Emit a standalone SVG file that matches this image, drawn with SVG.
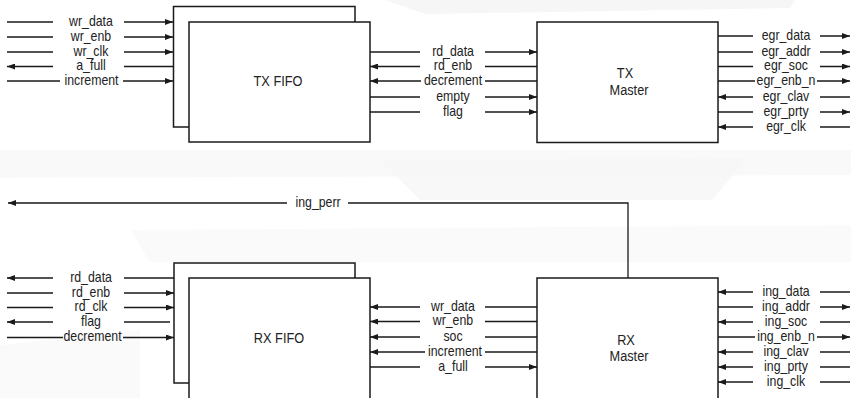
<svg xmlns="http://www.w3.org/2000/svg" width="851" height="398" viewBox="0 0 851 398">
<style>
.box{fill:#ffffff;stroke:#1a1a1a;stroke-width:1.5}
.sig{fill:none;stroke:#1a1a1a;stroke-width:1.3}
.sa{marker-end:url(#ah)}
.lbl,.nl{font-family:"Liberation Sans",Arial,sans-serif;fill:#222222;text-anchor:middle;transform-box:fill-box;transform-origin:center;transform:scaleX(0.88)}
.lbl{font-size:14px}
.nl{font-size:14.5px}
.bg{fill:#f6f6f6}
</style>
<defs>
<marker id="ah" viewBox="0 0 8 6" refX="8" refY="3" markerWidth="8" markerHeight="6" orient="auto" markerUnits="userSpaceOnUse">
<path d="M0,0 L8,3 L0,6 z" fill="#1a1a1a"/>
</marker>
</defs>
<rect width="851" height="398" fill="#ffffff"/>
<g id="background">
<polygon class="bg" points="385,0 795,0 790,8 425,14"/>
<polygon class="bg" points="0,150 851,150 851,175 0,178" opacity="0.7"/>
<polygon class="bg" points="380,160 748,158 712,200 420,200" opacity="0.8"/>
<polygon class="bg" points="130,230 880,225 851,262 150,262" opacity="0.5"/>
<polygon class="bg" points="0,345 140,330 140,398 0,398" opacity="0.6"/>
</g>
<g id="tx_fifo">
<rect class="box" x="173.5" y="6.5" width="181.5" height="120.5"/>
<rect class="box" x="189" y="22" width="181" height="120"/>
<text class="nl" x="278" y="86.5">TX FIFO</text>
</g>
<g id="tx_master">
<rect class="box" x="537" y="22" width="181" height="120.5"/>
<text class="nl" x="625" y="78.5">TX</text>
<text class="nl" x="629" y="95.5">Master</text>
</g>
<g id="rx_fifo">
<rect class="box" x="174" y="263" width="181" height="120"/>
<rect class="box" x="189" y="278" width="181" height="125"/>
<text class="nl" x="279" y="343.5">RX FIFO</text>
</g>
<g id="rx_master">
<rect class="box" x="537" y="278" width="181" height="125"/>
<text class="nl" x="626" y="345.5">RX</text>
<text class="nl" x="629" y="361.5">Master</text>
</g>
<g id="connectors">
<path class="sig sa" d="M7,22 H53 M124,22 H173"/>
<path class="sig sa" d="M7,37 H53 M124,37 H173"/>
<path class="sig sa" d="M7,52 H53 M124,52 H173"/>
<path class="sig sa" d="M124,66.5 H173 M53,66.5 H7"/>
<path class="sig sa" d="M7,81 H60 M123,81 H173"/>
<path class="sig sa" d="M370,52 H420 M485,52 H537"/>
<path class="sig sa" d="M537,66.5 H485 M420,66.5 H370"/>
<path class="sig sa" d="M537,81 H485 M421,81 H370"/>
<path class="sig sa" d="M370,97 H420 M485,97 H537"/>
<path class="sig sa" d="M370,112 H420 M485,112 H537"/>
<path class="sig sa" d="M718,36 H753 M820,36 H850"/>
<path class="sig sa" d="M718,52 H753 M820,52 H850"/>
<path class="sig sa" d="M718,66.5 H753 M820,66.5 H850"/>
<path class="sig sa" d="M718,81 H755 M817,81 H850"/>
<path class="sig sa" d="M850,97 H820 M753,97 H718"/>
<path class="sig sa" d="M718,112 H753 M820,112 H850"/>
<path class="sig sa" d="M850,127 H820 M753,127 H718"/>
<path class="sig sa" d="M628,278 V203 H348 M287,203 H8"/>
<path class="sig sa" d="M124,278 H174 M53,278 H7"/>
<path class="sig sa" d="M7,293 H53 M124,293 H174"/>
<path class="sig sa" d="M7,307.5 H53 M124,307.5 H174"/>
<path class="sig sa" d="M124,322 H170 M53,322 H7"/>
<path class="sig sa" d="M7,337.5 H63 M123,337.5 H174"/>
<path class="sig sa" d="M537,307 H485 M420,307 H370"/>
<path class="sig sa" d="M537,321.5 H485 M420,321.5 H370"/>
<path class="sig sa" d="M537,337 H485 M420,337 H370"/>
<path class="sig sa" d="M537,352 H485 M425,352 H370"/>
<path class="sig sa" d="M370,367 H420 M485,367 H537"/>
<path class="sig sa" d="M850,292 H820 M753,292 H718"/>
<path class="sig sa" d="M718,307 H753 M820,307 H850"/>
<path class="sig sa" d="M850,322 H820 M753,322 H718"/>
<path class="sig sa" d="M718,337 H755 M817,337 H850"/>
<path class="sig sa" d="M850,352 H820 M753,352 H718"/>
<path class="sig sa" d="M850,367 H820 M753,367 H718"/>
<path class="sig sa" d="M850,382 H820 M753,382 H718"/>
</g>
<g id="connector_labels">
<text class="lbl" x="91" y="26">wr_data</text>
<text class="lbl" x="91" y="41">wr_enb</text>
<text class="lbl" x="91" y="56">wr_clk</text>
<text class="lbl" x="91" y="70.5">a_full</text>
<text class="lbl" x="91.5" y="85">increment</text>
<text class="lbl" x="453" y="56">rd_data</text>
<text class="lbl" x="453" y="70.5">rd_enb</text>
<text class="lbl" x="453" y="85">decrement</text>
<text class="lbl" x="453" y="101">empty</text>
<text class="lbl" x="453" y="116">flag</text>
<text class="lbl" x="786" y="40">egr_data</text>
<text class="lbl" x="786" y="56">egr_addr</text>
<text class="lbl" x="786" y="70.5">egr_soc</text>
<text class="lbl" x="786" y="85">egr_enb_n</text>
<text class="lbl" x="786" y="101">egr_clav</text>
<text class="lbl" x="786" y="116">egr_prty</text>
<text class="lbl" x="786" y="131">egr_clk</text>
<text class="lbl" x="318" y="207">ing_perr</text>
<text class="lbl" x="91" y="282">rd_data</text>
<text class="lbl" x="91" y="297">rd_enb</text>
<text class="lbl" x="91" y="311.5">rd_clk</text>
<text class="lbl" x="91" y="326">flag</text>
<text class="lbl" x="92.5" y="341.5">decrement</text>
<text class="lbl" x="453" y="311">wr_data</text>
<text class="lbl" x="453" y="325.5">wr_enb</text>
<text class="lbl" x="453" y="341">soc</text>
<text class="lbl" x="455" y="356">increment</text>
<text class="lbl" x="453" y="371">a_full</text>
<text class="lbl" x="786" y="296">ing_data</text>
<text class="lbl" x="786" y="311">ing_addr</text>
<text class="lbl" x="786" y="326">ing_soc</text>
<text class="lbl" x="786" y="341">ing_enb_n</text>
<text class="lbl" x="786" y="356">ing_clav</text>
<text class="lbl" x="786" y="371">ing_prty</text>
<text class="lbl" x="786" y="386">ing_clk</text>
</g>
</svg>
